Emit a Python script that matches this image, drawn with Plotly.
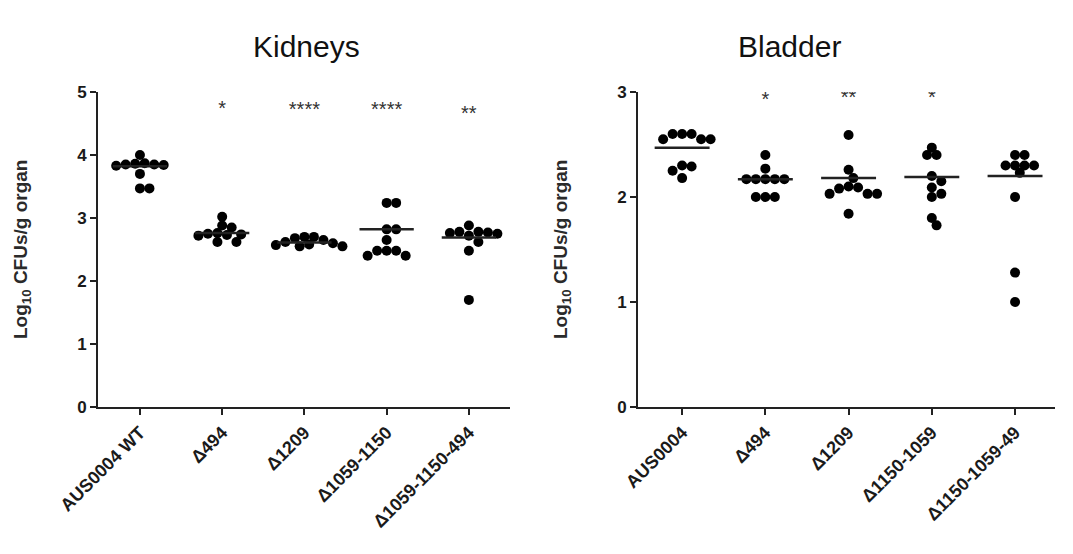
import plotly.graph_objects as go

# ---------------- data ----------------
kidney_groups = ["AUS0004 WT", "Δ494", "Δ1209", "Δ1059-1150", "Δ1059-1150-494"]
kidney_values = [
    [4.00, 3.87, 3.86, 3.85, 3.85, 3.84, 3.83, 3.70, 3.47, 3.47],
    [3.02, 2.88, 2.85, 2.76, 2.75, 2.74, 2.73, 2.72, 2.62, 2.62],
    [2.70, 2.70, 2.68, 2.65, 2.62, 2.60, 2.58, 2.57, 2.55, 2.55],
    [3.24, 3.24, 2.82, 2.82, 2.65, 2.48, 2.48, 2.48, 2.40, 2.40],
    [2.88, 2.78, 2.78, 2.77, 2.76, 2.75, 2.72, 2.62, 2.48, 1.70],
]
kidney_center = [3.82, 2.76, 2.61, 2.82, 2.69]
kidney_stars = ["", "*", "****", "****", "**"]
kidney_star_y = [0, 4.72, 4.70, 4.70, 4.63]

bladder_groups = ["AUS0004", "Δ494", "Δ1209", "Δ1150-1059", "Δ1150-1059-49"]
bladder_values = [
    [2.60, 2.60, 2.60, 2.55, 2.55, 2.55, 2.30, 2.29, 2.25, 2.18],
    [2.40, 2.27, 2.17, 2.17, 2.17, 2.17, 2.17, 2.00, 2.00, 2.00],
    [2.59, 2.26, 2.18, 2.10, 2.09, 2.08, 2.03, 2.03, 2.03, 1.84],
    [2.47, 2.40, 2.40, 2.20, 2.15, 2.09, 2.03, 2.00, 1.80, 1.73],
    [2.40, 2.40, 2.30, 2.30, 2.30, 2.30, 2.23, 2.00, 1.28, 1.00],
]
bladder_center = [2.47, 2.17, 2.18, 2.19, 2.20]
bladder_stars = ["", "*", "**", "*", ""]
bladder_star_y = [0, 2.91, 2.93, 2.93, 0]


def swarm(values, px_x, px_y, diam):
    """deterministic beeswarm offsets (in category units)"""
    order = sorted(range(len(values)), key=lambda i: -values[i])
    placed = []
    offs = [0.0] * len(values)
    step = diam * 0.5
    for i in order:
        yp = values[i] * px_y
        k = 0
        while True:
            m = (k + 1) // 2
            cand = m * step if k % 2 == 1 else -m * step
            ok = all((cand - px) ** 2 + (yp - py) ** 2 >= (diam * 0.9) ** 2 for px, py in placed)
            if ok:
                placed.append((cand, yp))
                offs[i] = cand / px_x
                break
            k += 1
    return offs


# page has an 8px body margin; figure sized to fit the 1073x554 window
OFF = 8
W, H = 1073 - 2 * OFF, 554 - 2 * OFF


def px_x(p):
    return (p - OFF) / W


def px_y(p):
    return 1 - (p - OFF) / H


fig = go.Figure()
font_main = "Liberation Sans, Arial, sans-serif"


def add_panel(groups, values, centers, stars, star_y, xref, yref, ppx, ppy):
    xs, ys = [], []
    for gi, vals in enumerate(values):
        offs = swarm(vals, ppx, ppy, 9.5)
        for v, o in zip(vals, offs):
            xs.append(gi + o)
            ys.append(v)
    fig.add_trace(go.Scatter(x=xs, y=ys, mode="markers", xaxis=xref, yaxis=yref,
                             marker=dict(color="black", size=10, line=dict(width=0)),
                             showlegend=False, hoverinfo="y"))
    lx, ly = [], []
    for gi, c in enumerate(centers):
        lx += [gi - 0.33, gi + 0.33, None]
        ly += [c, c, None]
    fig.add_trace(go.Scatter(x=lx, y=ly, mode="lines", xaxis=xref, yaxis=yref,
                             line=dict(color="#222", width=2.5), showlegend=False, hoverinfo="skip"))
    sx = [gi for gi, s in enumerate(stars) if s]
    sy = [star_y[gi] for gi, s in enumerate(stars) if s]
    st = [s for s in stars if s]
    fig.add_trace(go.Scatter(x=sx, y=sy, mode="text", text=st, xaxis=xref, yaxis=yref,
                             textposition="middle center",
                             textfont=dict(family=font_main, size=20, color="#333"),
                             showlegend=False, hoverinfo="skip"))


add_panel(kidney_groups, kidney_values, kidney_center, kidney_stars, kidney_star_y, "x", "y", 82.2, 63.0)
add_panel(bladder_groups, bladder_values, bladder_center, bladder_stars, bladder_star_y, "x2", "y2", 83.3, 104.7)

ydom = [px_y(407), px_y(92)]
axis_common = dict(showgrid=False, zeroline=False, showline=True, linecolor="#222", linewidth=2,
                   ticks="outside", tickcolor="#222", ticklen=6, tickwidth=1.5, automargin=False)
xfont = dict(family=font_main, size=18, color="#1a1a1a")
yfont = dict(family=font_main, size=17, color="#1a1a1a")

fig.update_layout(
    width=W, height=H, margin=dict(l=0, r=0, t=0, b=0),
    paper_bgcolor="white", plot_bgcolor="white",
    xaxis=dict(domain=[px_x(98), px_x(510)], range=[-0.51, 4.5], tickmode="array",
               tickvals=list(range(5)), ticktext=[f"<b>{g}</b>" for g in kidney_groups],
               tickangle=-45, tickfont=xfont, anchor="y", **axis_common),
    yaxis=dict(domain=ydom, range=[0, 5], tickvals=[0, 1, 2, 3, 4, 5],
               ticktext=[f"<b>{v}</b>" for v in [0, 1, 2, 3, 4, 5]],
               tickfont=yfont, anchor="x", **axis_common),
    xaxis2=dict(domain=[px_x(638), px_x(1055)], range=[-0.53, 4.48], tickmode="array",
                tickvals=list(range(5)), ticktext=[f"<b>{g}</b>" for g in bladder_groups],
                tickangle=-45, tickfont=xfont, anchor="y2", **axis_common),
    yaxis2=dict(domain=ydom, range=[0, 3], tickvals=[0, 1, 2, 3],
                ticktext=[f"<b>{v}</b>" for v in [0, 1, 2, 3]],
                tickfont=yfont, anchor="x2", **axis_common),
)

title_font = dict(family="Liberation Sans Narrow, Liberation Sans, Arial, sans-serif", size=30, color="#111")
fig.add_annotation(text="Kidneys", x=px_x(306), y=px_y(46), xref="paper", yref="paper",
                   showarrow=False, font=title_font, xanchor="center", yanchor="middle")
fig.add_annotation(text="Bladder", x=px_x(789), y=px_y(46), xref="paper", yref="paper",
                   showarrow=False, font=title_font, xanchor="center", yanchor="middle")

ytitle_font = dict(family=font_main, size=19, color="#2a2a2a")
fig.add_annotation(text="<b>Log<sub>10</sub> CFUs/g organ</b>", x=px_x(22), y=px_y(250), xref="paper",
                   yref="paper", showarrow=False, textangle=-90, font=ytitle_font,
                   xanchor="center", yanchor="middle")
fig.add_annotation(text="<b>Log<sub>10</sub> CFUs/g organ</b>", x=px_x(562), y=px_y(250), xref="paper",
                   yref="paper", showarrow=False, textangle=-90, font=ytitle_font,
                   xanchor="center", yanchor="middle")

fig.write_html("out.html")
